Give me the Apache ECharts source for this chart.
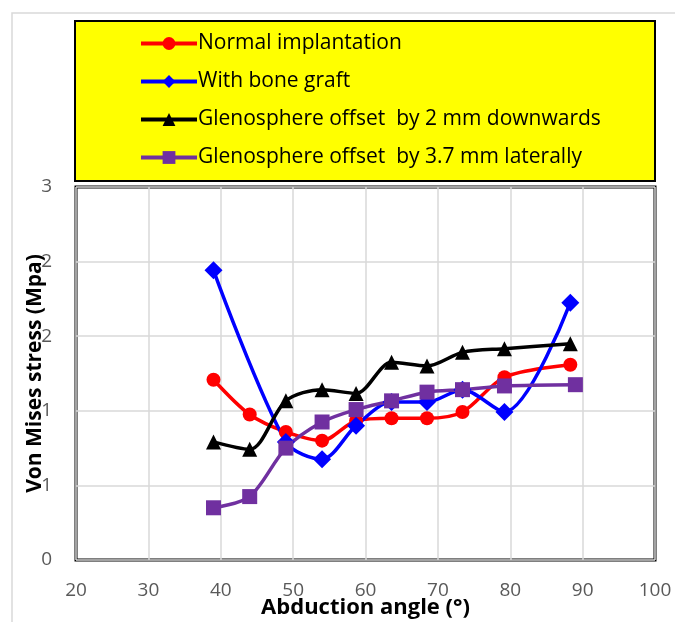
<!DOCTYPE html>
<html>
<head>
<meta charset="utf-8">
<script src="https://cdn.jsdelivr.net/npm/echarts@6/dist/echarts.min.js"></script>
<style>
  html, body { margin: 0; padding: 0; background: #fff; }
  #chart { width: 675px; height: 622px; }
</style>
</head>
<body>
<div id="chart"></div>
<script>
// values
var xNormal = [39, 44, 49, 54, 58.7, 63.6, 68.5, 73.4, 79.2, 88.3];
var normal = [1.45, 1.17, 1.03, 0.96, 1.12, 1.14, 1.14, 1.19, 1.47, 1.57];

var xGraft = [39, 49, 54, 58.7, 63.6, 68.5, 73.4, 79.2, 88.3];
var graft = [2.33, 0.95, 0.81, 1.08, 1.27, 1.27, 1.37, 1.19, 2.07];

var xDown = [39, 44, 49, 54, 58.7, 63.6, 68.5, 73.4, 79.2, 88.3];
var down = [0.95, 0.89, 1.28, 1.37, 1.34, 1.59, 1.56, 1.67, 1.70, 1.74];

var xLat = [39, 44, 49, 54, 58.7, 63.6, 68.5, 73.4, 79.2, 89];
var lateral = [0.42, 0.51, 0.90, 1.11, 1.21, 1.28, 1.35, 1.37, 1.40, 1.41];

var seriesNames = [
  'Normal implantation',
  'With bone graft',
  'Glenosphere offset  by 2 mm downwards',
  'Glenosphere offset  by 3.7 mm laterally'
];

function pairs(xs, ys) {
  return xs.map(function(x, i) { return [x, ys[i]]; });
}

var font = 'Open Sans';

function makeSeries(name, xs, ys, color, symbol, size) {
  return {
    name: name,
    type: 'line',
    data: pairs(xs, ys),
    smooth: 0.3,
    symbol: symbol,
    symbolSize: size,
    lineStyle: { color: color, width: 3.5 },
    itemStyle: { color: color },
    emphasis: { disabled: true }
  };
}

var chart = echarts.init(document.getElementById('chart'));
chart.setOption({
  animation: false,
  graphic: [
    {
      type: 'rect', z: -10,
      shape: { x: 12, y: 13, width: 700, height: 700 },
      style: { fill: 'none', stroke: '#d9d9d9', lineWidth: 1.5 }
    },
    {
      type: 'rect', z: -5,
      shape: { x: 75, y: 21, width: 580, height: 160 },
      style: { fill: '#ffff00', stroke: '#000', lineWidth: 2 }
    }
  ],
  legend: {
    orient: 'vertical',
    left: 134,
    top: 28,
    itemWidth: 56,
    itemHeight: 16,
    itemGap: 17,
    lineStyle: { width: 4 },
    textStyle: { fontFamily: font, fontSize: 21, color: '#000', padding: [0, 0, 0, -4] },
    data: seriesNames
  },
  grid: {
    left: 76, right: 20, top: 187, bottom: 62,
    outerBoundsMode: 'none',
    show: true, borderColor: '#000', borderWidth: 3
  },
  xAxis: {
    type: 'value',
    min: 20, max: 100, interval: 10,
    name: 'Abduction angle (°)',
    nameLocation: 'middle',
    nameMoveOverlap: false,
    nameGap: 37,
    nameTextStyle: { fontFamily: font, fontSize: 22, fontWeight: 'bold', color: '#000' },
    axisLine: { show: false },
    axisTick: { show: false },
    axisLabel: { fontFamily: font, fontSize: 19, color: '#595959', margin: 21 },
    splitLine: { lineStyle: { color: '#d9d9d9', width: 1.5 } }
  },
  yAxis: {
    type: 'value',
    min: 0, max: 3, interval: 0.6,
    name: 'Von Mises stress (Mpa)',
    nameLocation: 'middle',
    nameMoveOverlap: false,
    nameGap: 30,
    nameTextStyle: { fontFamily: font, fontSize: 21, fontWeight: 'bold', color: '#000' },
    axisLine: { show: false },
    axisTick: { show: false },
    axisLabel: {
      fontFamily: font, fontSize: 19, color: '#595959', margin: 24,
      formatter: function(v) { return String(Math.round(v)); }
    },
    splitLine: { lineStyle: { color: '#d9d9d9', width: 1.5 } }
  },
  series: [
    makeSeries(seriesNames[0], xNormal, normal, '#ff0000', 'circle', 14),
    makeSeries(seriesNames[1], xGraft, graft, '#0000ff', 'diamond', 18),
    makeSeries(seriesNames[2], xDown, down, '#000000', 'triangle', 15),
    makeSeries(seriesNames[3], xLat, lateral, '#7030a0', 'rect', 15)
  ]
});
</script>
</body>
</html>
